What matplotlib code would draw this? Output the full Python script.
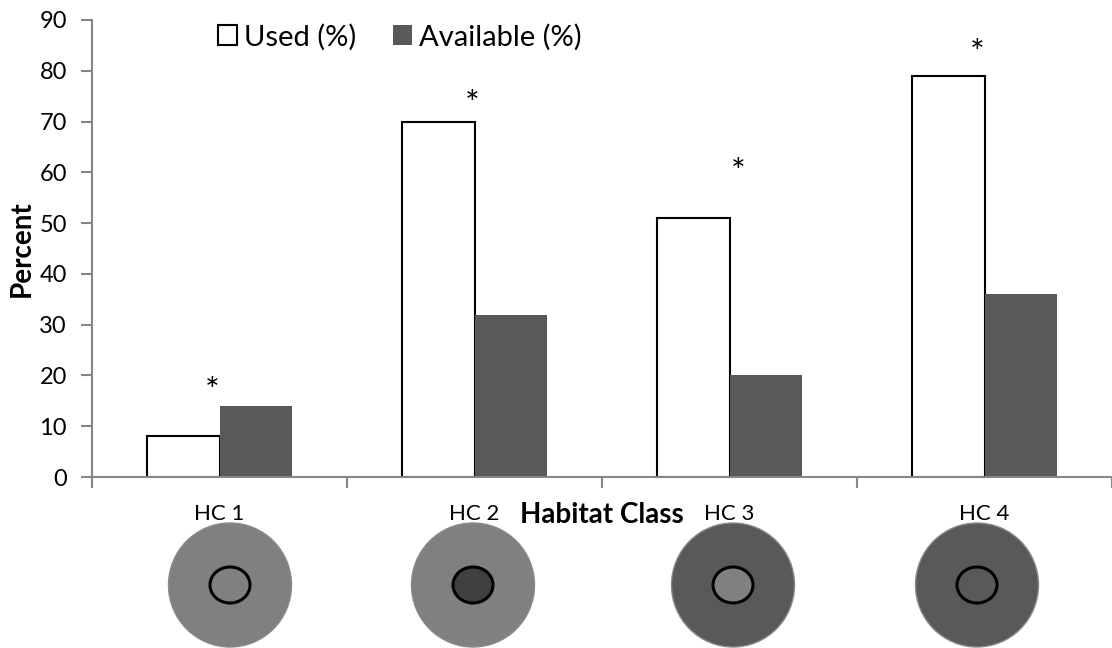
import numpy as np
import matplotlib.pyplot as plt
from matplotlib.patches import Ellipse

# data
classes = ['HC 1', 'HC 2', 'HC 3', 'HC 4']
used = [8, 70, 51, 79]
available = [14, 32, 20, 36]
star_y = [16.8, 73.3, 59.8, 83.3]
outer_col = ['#808080', '#808080', '#595959', '#595959']
inner_col = ['#808080', '#404040', '#808080', '#595959']

plt.rcParams['font.family'] = ['Lato', 'DejaVu Sans']

W, H = 1112, 648
fig = plt.figure(figsize=(W / 100, H / 100), dpi=100)

cat_w = 255.7
x0 = 92
ax = fig.add_axes([x0 / W, 1 - 477 / H, (W - x0) / W, 457 / H])

x = np.arange(len(classes))
bw = 0.285
ax.bar(x - bw / 2, used, bw, color='white', edgecolor='black', linewidth=1.5, label='Used (%)')
ax.bar(x + bw / 2, available, bw, color='#595959', label='Available (%)')

ax.set_xlim(-0.5, -0.5 + (W - x0) / cat_w)
ax.set_ylim(0, 90)
ax.set_yticks(range(0, 91, 10))
ax.set_xticks(np.arange(-0.5, 4, 1))
ax.set_xticklabels([])
ax.tick_params(axis='y', labelsize=17, length=8, color='#868686', width=1.5, pad=10)
ax.tick_params(axis='x', length=8, color='#868686', width=1.5)
for s in ['top', 'right']:
    ax.spines[s].set_visible(False)
for s in ['left', 'bottom']:
    ax.spines[s].set_color('#868686')
    ax.spines[s].set_linewidth(1.5)
ax.set_ylabel('Percent', fontsize=20, fontweight='bold', labelpad=3)

star_dx = [-0.03, -0.01, 0.035, -0.03]
for i in range(len(classes)):
    ax.text(i + star_dx[i], star_y[i], '*', ha='center', va='center', fontsize=25)
    ax.text(i, -5.3, classes[i], ha='center', va='top', fontsize=16)

ax.text(1.5, -5.0, 'Habitat Class', ha='center', va='top', fontsize=20, fontweight='bold')

leg = ax.legend(loc='center left', bbox_to_anchor=(203 / W, 1 - 37 / H), bbox_transform=fig.transFigure,
                ncol=2, frameon=False, borderpad=0,
                fontsize=21, handlelength=0.65, handleheight=0.65, handletextpad=0.25,
                columnspacing=1.25)

# circles below the axis, in pixel coords
ov = fig.add_axes([0, 0, 1, 1])
ov.set_xlim(0, W)
ov.set_ylim(H, 0)
ov.axis('off')
cx = [230, 473, 733, 977]
for i in range(len(classes)):
    ov.add_patch(Ellipse((cx[i], 585), 123, 124, facecolor=outer_col[i], edgecolor='#8a8a8a', linewidth=1))
    ov.add_patch(Ellipse((cx[i], 585), 40, 36, facecolor=inner_col[i], edgecolor='black', linewidth=2.2))

fig.savefig('out.png', dpi=100)
